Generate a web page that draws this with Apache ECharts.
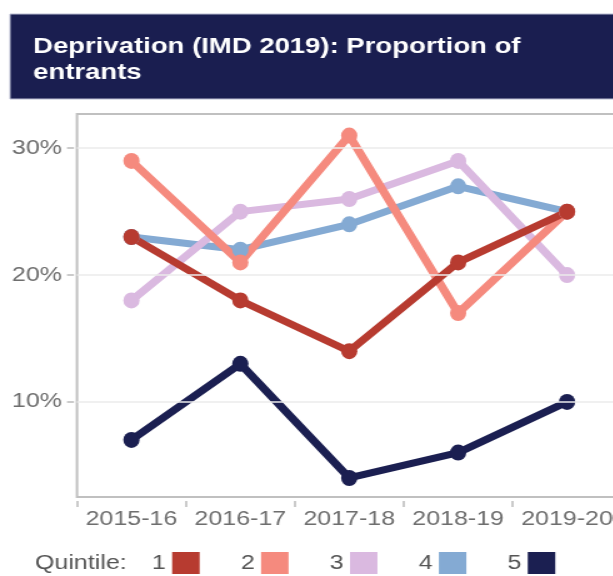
<!DOCTYPE html>
<html>
<head>
<meta charset="utf-8">
<script src="https://cdn.jsdelivr.net/npm/echarts@6/dist/echarts.min.js"></script>
<style>
html,body{margin:0;padding:0;overflow:hidden;background:#fff;}
#wrap{width:613px;height:576px;overflow:hidden;}
#chart{width:490.4px;height:576px;transform:scaleX(1.25);transform-origin:0 0;}
</style>
</head>
<body>
<div id="wrap"><div id="chart"></div></div>
<script>
const categories = ['2015-16', '2016-17', '2017-18', '2018-19', '2019-20'];
const quintile1 = [23, 18, 14, 21, 25];
const quintile2 = [29, 21, 31, 17, 25];
const quintile3 = [18, 25, 26, 29, 20];
const quintile4 = [23, 22, 24, 27, 25];
const quintile5 = [7, 13, 4, 6, 10];
const yTicks = [10, 20, 30];
const legendNames = ['1', '2', '3', '4', '5'];

const colors = {'1':'#b73b30','2':'#f58a7e','3':'#dab9e0','4':'#84aad3','5':'#1b1f51'};
const FONT = '"Liberation Sans", Arial, sans-serif';

const chart = echarts.init(document.getElementById('chart'));

function lineSeries(name, data){
  return {
    name: name, type: 'line', data: data,
    symbol: 'circle', symbolSize: [13, 16],
    lineStyle: {width: 7, color: colors[name]},
    itemStyle: {color: colors[name]},
    emphasis: {disabled: true}
  };
}

chart.setOption({
  animation: false,
  graphic: [{
    type: 'rect', z: 0,
    shape: {x: 8, y: 14, width: 600, height: 85},
    style: {fill: '#1a1e50', stroke: '#b8bbd0', lineWidth: 1}
  }],
  title: [{
    text: 'Deprivation (IMD 2019): Proportion of\nentrants',
    left: 21.5, top: 29, z: 5,
    textStyle: {color: '#ffffff', fontSize: 22, fontWeight: 'bold', fontFamily: FONT, lineHeight: 26}
  },{
    text: 'Quintile:',
    left: 28, top: 552, padding: 0,
    textStyle: {color: '#555555', fontSize: 20, fontWeight: 'normal', fontFamily: FONT, lineHeight: 22}
  }],
  legend: {
    data: legendNames,
    left: 121.6, top: 552, padding: 0,
    align: 'right', icon: 'rect',
    itemWidth: 22, itemHeight: 22, itemGap: 33,
    textStyle: {color: '#555555', fontSize: 20, fontFamily: FONT},
    selectedMode: false
  },
  grid: {
    left: 61.6, right: -7.2, top: 114, bottom: 79,
    show: true, borderColor: '#c0c0c0', borderWidth: 2,
    containLabel: false, outerBoundsMode: 'none'
  },
  xAxis: {
    type: 'category', data: categories, boundaryGap: true,
    offset: 4,
    axisLine: {show: false},
    axisTick: {show: true, length: 6, lineStyle: {color: '#bbbbbb', width: 1.5}},
    axisLabel: {margin: 8, fontSize: 20, color: '#6e6e6e', fontFamily: FONT, interval: 0},
    splitLine: {show: false}
  },
  yAxis: {
    type: 'value', min: 2.5, max: 32.7,
    offset: 2.4,
    axisLine: {show: false},
    axisTick: {show: true, length: 5.6, customValues: yTicks, lineStyle: {color: '#bbbbbb', width: 1.5}},
    axisLabel: {margin: 9.6, fontSize: 20, color: '#6e6e6e', fontFamily: FONT, customValues: yTicks, formatter: '{value}%'},
    splitLine: {show: false}
  },
  series: [
    {
      name: 'grid', type: 'line', data: [], silent: true, z: 1,
      markLine: {
        silent: true, symbol: 'none', label: {show: false},
        lineStyle: {color: '#ebebeb', width: 1.5, type: 'solid'},
        data: yTicks.map(v => ({yAxis: v}))
      }
    },
    lineSeries('5', quintile5),
    lineSeries('4', quintile4),
    lineSeries('3', quintile3),
    lineSeries('2', quintile2),
    lineSeries('1', quintile1)
  ]
});
</script>
</body>
</html>
